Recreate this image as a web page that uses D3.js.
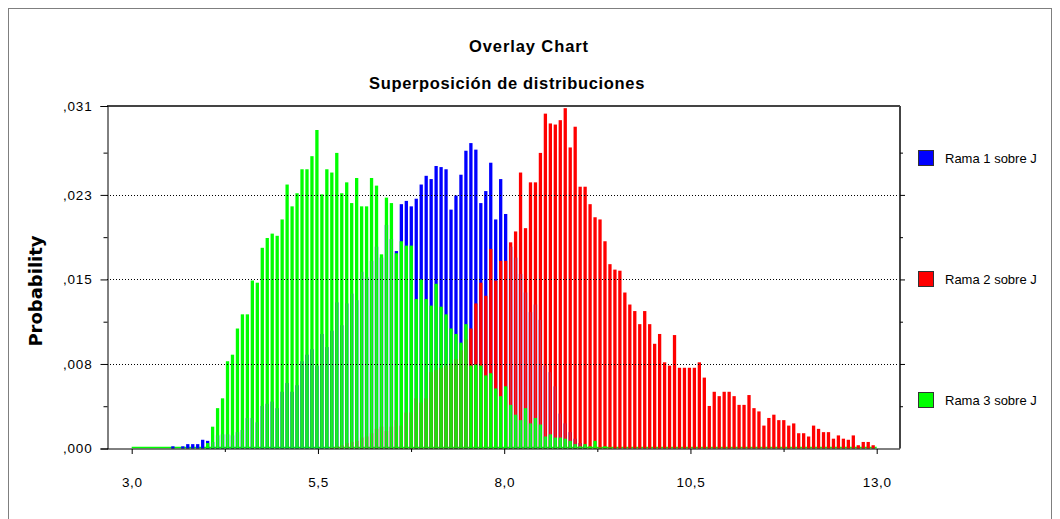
<!DOCTYPE html>
<html>
<head>
<meta charset="utf-8">
<script src="https://cdn.jsdelivr.net/npm/d3@7"></script>
<style>
  body { margin: 0; background: #fff; }
  text { font-family: "Liberation Sans", Arial, sans-serif; fill: #000; }
</style>
</head>
<body>
<svg id="chart" width="1060" height="519"></svg>
<script>
// chart texts
var titleText = "Overlay Chart";
var subtitleText = "Superposición de distribuciones";
var yAxisTitle = "Probability";
var seriesNames = ["Rama 1 sobre J", "Rama 2 sobre J", "Rama 3 sobre J"];
var seriesColors = ["#0000ff", "#ff0000", "#00ff00"];

// bins: 150 equal bins from 3,0 to 13,0
var xRange = [3.0, 13.0];
var binCount = 150;
var xTicks = [3.0, 5.5, 8.0, 10.5, 13.0];
var xTickLabels = ["3,0", "5,5", "8,0", "10,5", "13,0"];
var xMinorTicks = [4.25, 6.75, 9.25, 11.75];
var yMax = 0.0314;
var yTicks = [0, 0.00775, 0.0155, 0.02325, 0.0314];
var yTickLabels = [",000", ",008", ",015", ",023", ",031"];
var yMinorTicks = [0.003875, 0.011625, 0.019375, 0.027125];

// Rama 1 sobre J (blue), first value is bin 8
var blueFirstBin = 8;
var blueValues = [
  0.0002, 0.0000, 0.0002, 0.0004, 0.0004, 0.0004, 0.0008, 0.0007,
  0.0006, 0.0012, 0.0013, 0.0013, 0.0012, 0.0015, 0.0017, 0.0028, 0.0028, 0.0024,
  0.0039, 0.0041, 0.0043, 0.0037, 0.0052, 0.0060, 0.0052, 0.0058, 0.0080, 0.0086,
  0.0091, 0.0076, 0.0105, 0.0093, 0.0108, 0.0134, 0.0113, 0.0133, 0.0142, 0.0136,
  0.0162, 0.0157, 0.0172, 0.0185, 0.0175, 0.0205, 0.0192, 0.0181, 0.0224, 0.0227,
  0.0222, 0.0229, 0.0242, 0.0250, 0.0247, 0.0259, 0.0258, 0.0256, 0.0219, 0.0232,
  0.0251, 0.0273, 0.0280, 0.0274, 0.0225, 0.0236, 0.0262, 0.0210, 0.0247, 0.0215,
  0.0185, 0.0175, 0.0160, 0.0143, 0.0125, 0.0132, 0.0118, 0.0076, 0.0070, 0.0057,
  0.0032, 0.0023, 0.0015, 0.0009, 0.0005, 0.0003
];

// Rama 2 sobre J (red), first value is bin 40
var redFirstBin = 40;
var redValues = [
  0.0001, 0.0002, 0.0003, 0.0005, 0.0006, 0.0007, 0.0010, 0.0011, 0.0014, 0.0018,
  0.0020, 0.0016, 0.0020, 0.0026, 0.0021, 0.0033, 0.0033, 0.0046, 0.0042, 0.0046,
  0.0070, 0.0072, 0.0074, 0.0076, 0.0078, 0.0082, 0.0090, 0.0100, 0.0110, 0.0133,
  0.0152, 0.0140, 0.0183, 0.0154, 0.0172, 0.0172, 0.0189, 0.0199, 0.0253, 0.0202,
  0.0244, 0.0244, 0.0271, 0.0307, 0.0298, 0.0297, 0.0301, 0.0312, 0.0276, 0.0295,
  0.0240, 0.0240, 0.0224, 0.0212, 0.0210, 0.0190, 0.0169, 0.0164, 0.0163, 0.0143,
  0.0132, 0.0126, 0.0114, 0.0126, 0.0114, 0.0096, 0.0105, 0.0079, 0.0076, 0.0104,
  0.0074, 0.0074, 0.0074, 0.0074, 0.0079, 0.0065, 0.0039, 0.0052, 0.0048, 0.0052,
  0.0052, 0.0048, 0.0040, 0.0040, 0.0049, 0.0037, 0.0034, 0.0021, 0.0028, 0.0031,
  0.0026, 0.0026, 0.0021, 0.0023, 0.0014, 0.0014, 0.0011, 0.0021, 0.0018, 0.0015,
  0.0015, 0.0009, 0.0012, 0.0009, 0.0008, 0.0012, 0.0003, 0.0006, 0.0006, 0.0003
];

// Rama 3 sobre J (green), first value is bin 15
var greenFirstBin = 15;
var greenValues = [
  0.0005, 0.0020, 0.0037, 0.0046, 0.0080, 0.0086, 0.0110, 0.0123, 0.0123, 0.0154,
  0.0152, 0.0184, 0.0193, 0.0197, 0.0195, 0.0210, 0.0242, 0.0222, 0.0234, 0.0256,
  0.0256, 0.0268, 0.0292, 0.0233, 0.0256, 0.0253, 0.0271, 0.0234, 0.0244, 0.0225,
  0.0248, 0.0222, 0.0222, 0.0248, 0.0241, 0.0178, 0.0230, 0.0225, 0.0179, 0.0190,
  0.0186, 0.0186, 0.0137, 0.0155, 0.0137, 0.0131, 0.0151, 0.0130, 0.0123, 0.0110,
  0.0105, 0.0097, 0.0114, 0.0076, 0.0077, 0.0076, 0.0067, 0.0069, 0.0055, 0.0048,
  0.0057, 0.0040, 0.0031, 0.0026, 0.0037, 0.0023, 0.0028, 0.0022, 0.0011, 0.0013,
  0.0010, 0.0010, 0.0009, 0.0007, 0.0004, 0.0002, 0.0004, 0.0002, 0.0007, 0.0001,
  0.0002, 0.0001
];

var svg = d3.select("#chart");
var plot = { left: 107, right: 900, top: 106, bottom: 448.5 };
var binWidth = (xRange[1] - xRange[0]) / binCount;

var x = d3.scaleLinear().domain(xRange).range([131.7, 876.7]);
var y = d3.scaleLinear().domain([0, yMax]).range([plot.bottom, plot.top]);

// turn (first bin, values) into bin records
function toBins(firstBin, values) {
  return values.map(function(v, k) {
    var b = firstBin + k;
    return { bin: b, x0: xRange[0] + b * binWidth, value: v };
  });
}

var series = [
  toBins(blueFirstBin, blueValues),
  toBins(redFirstBin, redValues),
  toBins(greenFirstBin, greenValues)
];

// outer frame
svg.append("rect")
  .attr("x", 8.5).attr("y", 8.5)
  .attr("width", 1043).attr("height", 530)
  .attr("fill", "none").attr("stroke", "#7f7f7f");

// titles
svg.append("text")
  .attr("x", 529).attr("y", 52)
  .attr("text-anchor", "middle")
  .style("font-size", "16.5px").style("font-weight", "bold")
  .style("letter-spacing", "0.9px")
  .text(titleText);
svg.append("text")
  .attr("x", 507).attr("y", 89)
  .attr("text-anchor", "middle")
  .style("font-size", "16.5px").style("font-weight", "bold")
  .style("letter-spacing", "0.65px")
  .text(subtitleText);

// y axis title
svg.append("text")
  .attr("transform", "translate(42,291) rotate(-90)")
  .attr("text-anchor", "middle")
  .style("font-family", "'DejaVu Sans', Verdana, sans-serif")
  .style("font-size", "18px").style("font-weight", "bold")
  .text(yAxisTitle);

// baseline of empty bins (drawn by the front series)
svg.append("line")
  .attr("x1", x(xRange[0])).attr("x2", x(xRange[1]))
  .attr("y1", y(0) - 1).attr("y2", y(0) - 1)
  .attr("stroke", seriesColors[2]).attr("stroke-width", 1.5);

// bars, back to front: blue, red, green
var barW = 3.3;
series.forEach(function(data, s) {
  svg.append("g")
    .selectAll("rect")
    .data(data.filter(function(d) { return d.value > 0; }))
    .join("rect")
    .attr("x", function(d) { return x(d.x0) - 0.2; })
    .attr("y", function(d) { return y(d.value); })
    .attr("width", barW)
    .attr("height", function(d) { return y(0) - y(d.value); })
    .attr("fill", seriesColors[s]);
});

// faint traces of bars hidden behind the front series
function frontMax(bin, fromSeries) {
  var m = 0;
  for (var s = fromSeries; s < series.length; s++) {
    series[s].forEach(function(d) { if (d.bin === bin) m = Math.max(m, d.value); });
  }
  return m;
}
var ghostColors = ["#8a8ad8", "#b05050"];
[0, 1].forEach(function(s) {
  svg.append("g")
    .selectAll("rect")
    .data(series[s].filter(function(d) { return d.value > 0 && d.value < frontMax(d.bin, s + 1); }))
    .join("rect")
    .attr("x", function(d) { return x(d.x0) + 0.9; })
    .attr("y", function(d) { return y(d.value); })
    .attr("width", 1.1)
    .attr("height", function(d) { return y(0) - y(d.value); })
    .attr("fill", ghostColors[s])
    .attr("opacity", 0.35);
});

// dotted grid lines over the bars
svg.append("g")
  .selectAll("line")
  .data(yTicks.slice(1, 4))
  .join("line")
  .attr("x1", plot.left).attr("x2", plot.right)
  .attr("y1", function(d) { return Math.round(y(d)) + 0.5; })
  .attr("y2", function(d) { return Math.round(y(d)) + 0.5; })
  .attr("stroke", "#000").attr("stroke-dasharray", "1,2");

// plot frame
svg.append("line")
  .attr("x1", plot.left).attr("x2", plot.right)
  .attr("y1", plot.top).attr("y2", plot.top)
  .attr("stroke", "#444").attr("stroke-width", 2);
svg.append("line")
  .attr("x1", plot.right).attr("x2", plot.right)
  .attr("y1", plot.top).attr("y2", plot.bottom)
  .attr("stroke", "#444").attr("stroke-width", 2);

// left axis
var yAxis = d3.axisLeft(y)
  .tickValues(yTicks)
  .tickFormat(function(d, i) { return yTickLabels[i]; })
  .tickSize(7).tickPadding(8);
var gy = svg.append("g")
  .attr("transform", "translate(" + (plot.left + 0.5) + ",0)")
  .call(yAxis);
gy.selectAll("text").style("font-size", "13.5px").style("letter-spacing", "0.8px")
  .style("font-family", "'Liberation Sans', Arial, sans-serif");
svg.append("g")
  .attr("transform", "translate(" + (plot.left + 0.5) + ",0)")
  .call(d3.axisLeft(y).tickValues(yMinorTicks).tickSize(4).tickFormat(""))
  .select(".domain").remove();

// right axis, ticks only
svg.append("g")
  .attr("transform", "translate(" + plot.right + ",0)")
  .call(d3.axisRight(y).tickValues(yTicks.slice(1, 4)).tickSize(5).tickFormat(""))
  .select(".domain").remove();
svg.append("g")
  .attr("transform", "translate(" + plot.right + ",0)")
  .call(d3.axisRight(y).tickValues(yMinorTicks).tickSize(3).tickFormat(""))
  .select(".domain").remove();

// bottom axis
var gx = svg.append("g")
  .attr("transform", "translate(0," + (plot.bottom + 0.5) + ")")
  .call(d3.axisBottom(x)
    .tickValues(xTicks)
    .tickFormat(function(d, i) { return xTickLabels[i]; })
    .tickSize(5).tickPadding(23));
gx.select(".domain").attr("d", "M" + plot.left + ",0H" + plot.right);
gx.selectAll("text").style("font-size", "13.5px").style("letter-spacing", "0.6px")
  .style("font-family", "'Liberation Sans', Arial, sans-serif");
svg.append("g")
  .attr("transform", "translate(0," + (plot.bottom + 0.5) + ")")
  .call(d3.axisBottom(x).tickValues(xMinorTicks).tickSize(3).tickFormat(""))
  .select(".domain").remove();

// legend
var legend = svg.append("g").selectAll("g")
  .data(seriesNames)
  .join("g")
  .attr("transform", function(d, i) { return "translate(918," + (150 + i * 121) + ")"; });
legend.append("rect")
  .attr("x", 0.5).attr("y", 0.5)
  .attr("width", 15).attr("height", 15)
  .attr("fill", function(d, i) { return seriesColors[i]; })
  .attr("stroke", "#333");
legend.append("text")
  .attr("x", 27).attr("y", 13)
  .style("font-size", "13px").style("letter-spacing", "0px")
  .text(function(d) { return d; });
</script>
</body>
</html>
